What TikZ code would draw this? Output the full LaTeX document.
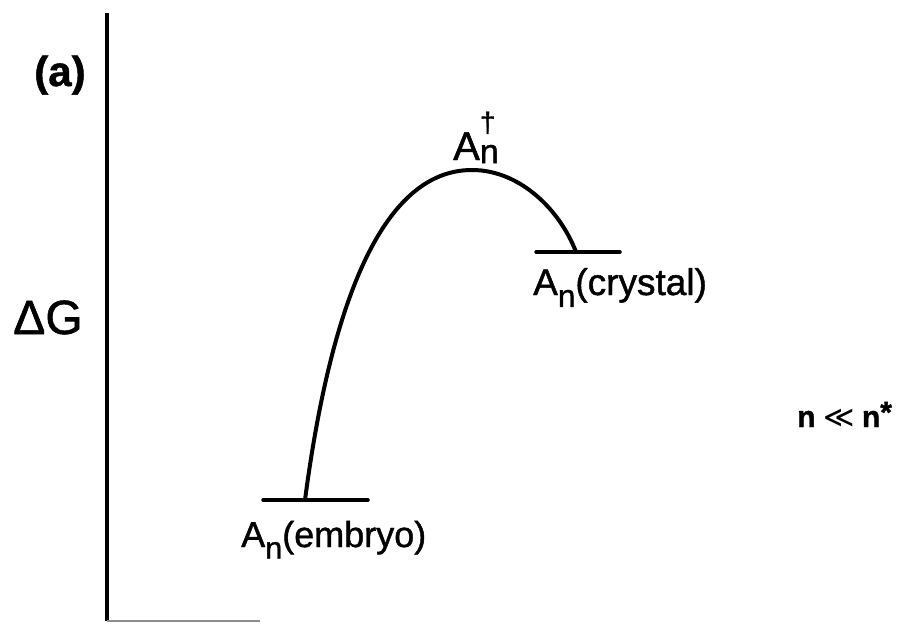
\documentclass[tikz,border=0pt]{standalone}
\usepackage{fontspec}
\setmainfont{Liberation Sans}[FakeBold=1.2]
\newfontfamily\symfont{DejaVu Sans}
\newcommand{\subn}{\raisebox{-0.32em}{\scalebox{0.85}{n}}}
\begin{document}
\begin{tikzpicture}[x=1pt,y=-1pt,
  thick line/.style={line width=4pt,line cap=round},
  level/.style={line width=3.5pt,line cap=round},
  lbl/.style={inner sep=0pt,font=\fontsize{36}{40}\selectfont}]
\useasboundingbox (0,0) rectangle (908,624);
% axes
\coordinate (axtop) at (107,13);
\coordinate (axbot) at (107,621);
\coordinate (axend) at (260,621);
\draw[line width=4.5pt] (axtop) -- (axbot);
\draw[line width=2pt,black!45] (axbot) -- (axend);
% levels
\coordinate (emb1) at (263,500);
\coordinate (emb2) at (368,500);
\coordinate (embfoot) at (305,500);
\coordinate (cry1) at (536,252);
\coordinate (cry2) at (620,252);
\coordinate (cryfoot) at (576,252);
\coordinate (peak) at (472,170);
\draw[level] (emb1) -- (emb2);
\draw[level] (cry1) -- (cry2);
% energy curve
\draw[thick line] (embfoot) .. controls (330,310) and (380,170) .. (peak)
  .. controls (520,170) and (560,210) .. (cryfoot);
% labels
\node[lbl,font=\bfseries\fontsize{42}{44}\selectfont,anchor=base] (a) at (60,86) {(a)};
\node[lbl,font=\fontsize{48}{50}\selectfont,anchor=base] (dg) at (48,334) {ΔG};
\node[lbl,font=\fontsize{40}{44}\selectfont,anchor=base west] (ts) at (453,160)
  {A\rlap{\raisebox{-0.08em}{\scalebox{0.85}{n}}}\raisebox{0.7em}{\scalebox{0.7}{†}}\hspace{0.15em}};
\node[lbl,font=\fontsize{37}{40}\selectfont,anchor=base west] (cry) at (533,295) {A\subn(crystal)};
\node[lbl,anchor=base west] (emb) at (241,547) {A\subn(embryo)};
\node[lbl,font=\bfseries\fontsize{30}{32}\selectfont,anchor=base west] (cond) at (797,427)
  {n\hspace{0.25em}{\symfont\mdseries ≪}\hspace{0.25em}n\raisebox{0.15em}{*}};
\end{tikzpicture}
\end{document}
